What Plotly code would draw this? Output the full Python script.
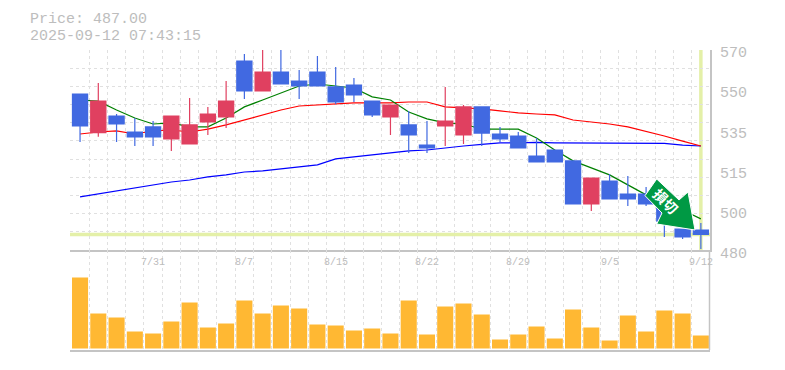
import plotly.graph_objects as go

W, H = 785, 370

dates = ["7/25","7/28","7/29","7/30","7/31","8/1","8/4","8/5","8/6","8/7","8/8","8/12","8/13","8/14","8/15",
         "8/18","8/19","8/20","8/21","8/22","8/25","8/26","8/27","8/28","8/29","9/1","9/2","9/3","9/4","9/5",
         "9/8","9/9","9/10","9/11","9/12"]
shown_dates = ["7/31","8/7","8/15","8/22","8/29","9/5","9/12"]

opens = [550.2,532.8,540.3,533.1,535.4,530.0,527.7,537.6,539.9,565.0,551.6,560.1,556.0,560.1,553.4,
         554.2,547.0,539.9,536.3,527.2,535.8,531.8,544.4,532.2,531.3,522.3,525.0,520.1,500.7,511.0,
         505.2,505.2,498.9,489.4,489.0]
highs = [550.2,555.2,541.2,539.4,538.0,540.3,548.4,544.4,556.0,568.2,570.0,570.0,561.0,567.3,562.4,
         557.4,547.0,545.2,542.6,538.0,553.4,545.2,544.4,535.4,533.1,530.4,525.0,520.1,512.4,514.2,
         513.3,508.4,502.5,489.4,492.1]
lows = [528.6,531.0,528.6,526.8,526.8,524.6,527.7,531.8,534.9,548.0,551.6,554.7,548.0,553.8,545.7,
        546.6,539.9,531.8,523.7,523.7,526.8,527.7,526.8,528.6,525.9,519.6,519.6,500.7,497.5,503.0,
        499.8,499.8,485.9,485.0,480.5]
closes = [535.8,547.0,536.7,530.9,530.9,540.3,536.3,541.2,547.0,551.6,560.1,554.7,553.8,553.8,546.6,
          549.8,540.8,545.2,531.8,525.9,538.0,544.4,532.6,530.0,525.9,519.6,519.6,500.7,512.4,503.0,
          503.0,500.7,493.0,485.9,487.0]

ma_short = [547.5,547.0,543.0,539.4,536.7,537.2,535.4,535.4,539.4,544.4,547.5,550.6,553.8,554.7,553.8,
            552.9,548.9,547.5,542.1,539.0,537.2,536.7,534.4,534.4,534.4,530.4,525.0,520.1,516.9,513.8,
            509.3,504.8,500.3,498.0,494.0]
ma_mid = [532.2,533.1,533.6,532.2,533.6,534.0,533.1,534.4,536.3,538.5,540.8,543.0,544.8,545.2,545.7,
          546.2,546.2,546.2,546.6,546.6,544.4,543.9,543.5,542.6,541.7,541.2,540.8,538.5,537.6,536.7,
          535.4,533.5,531.3,529.0,526.8]
ma_long = [503.9,505.2,506.6,507.9,509.3,510.6,511.5,512.9,513.8,515.1,515.6,516.5,517.4,518.3,521.0,
           521.9,522.8,523.7,524.6,525.0,526.0,526.8,527.5,528.2,528.2,528.4,528.2,528.2,528.2,528.2,
           528.2,528.2,528.0,527.2,526.8]
volume = [71,35,31,17,15,27,46,21,25,48,35,43,40,24,23,18,20,15,48,14,42,45,34,9,14,22,10,39,21,8,33,17,38,35,13]

price_labels = ["570","550","535","515","500","480"]
price_label_levels = [570,552,534,516,498,480]
last_price = 487.0
title_lines = ["Price: 487.00", "2025-09-12 07:43:15"]
signal_text = "損切"

idx = list(range(len(dates)))
GRAY = "#bdbdbd"
AXIS = "#c4c4c4"
GRID = "#e0e0e0"
BAND = "#e4f0a8"
MONO = "Liberation Mono"

def px(x):
    return x / W

def py(y):
    return 1 - y / H

x_range = [-0.55, 34.5]
x_grid = [i - 0.5 for i in idx] + [34.5]
y_grid = [480 + i * 90 / 11 for i in range(12)]

fig = go.Figure()
for name, vals, col in [("long", ma_long, "#0000ff"), ("mid", ma_mid, "#ff0000"), ("short", ma_short, "#008000")]:
    fig.add_trace(go.Scatter(x=idx, y=vals, mode="lines", name=name, line=dict(color=col, width=1.2),
                             xaxis="x", yaxis="y", hoverinfo="skip"))

fig.add_trace(go.Candlestick(x=idx, open=opens, high=highs, low=lows, close=closes, xaxis="x3", yaxis="y3",
                             increasing=dict(line=dict(color="#e04060", width=1.2), fillcolor="#e04060"),
                             decreasing=dict(line=dict(color="#4169e1", width=1.2), fillcolor="#4169e1"),
                             whiskerwidth=0))
fig.add_trace(go.Bar(x=idx, y=volume, marker=dict(color="#ffb833", line=dict(width=0)), xaxis="x2", yaxis="y2"))

axis_x = dict(range=x_range, domain=[px(70), px(710)], tickmode="array", tickvals=x_grid, showticklabels=False,
              ticks="", showgrid=True, gridcolor=GRID, griddash="3px,3px", gridwidth=1.2, zeroline=False,
              showline=True, linecolor=AXIS, linewidth=1.5)

shapes = [
    dict(type="line", xref="x", yref="y", x0=-0.55, x1=34.5, y0=last_price, y1=last_price,
         line=dict(color=BAND, width=3.5), layer="below"),
    dict(type="line", xref="x", yref="y", x0=34, x1=34, y0=480, y1=570,
         line=dict(color=BAND, width=3.5), layer="below"),
    dict(type="line", xref="paper", yref="paper", x0=px(709.5), x1=px(709.5), y0=py(250), y1=py(350),
         line=dict(color=AXIS, width=1.5), layer="above"),
]
arrow = [(656.7, 179), (645, 195.7), (662, 213), (656.7, 224), (695, 230), (688, 192), (679, 200)]
path = "M " + " L ".join(f"{px(a)},{py(b)}" for a, b in arrow) + " Z"
shapes.append(dict(type="path", xref="paper", yref="paper", path=path, fillcolor="#009944",
                   line=dict(color="#ffffff", width=1), layer="above"))

annotations = []
for i, t in enumerate(title_lines):
    annotations.append(dict(text=t, xref="paper", yref="paper", x=px(28), y=py(19 + 17 * i), xanchor="left",
                            yanchor="middle", showarrow=False, font=dict(family=MONO, size=15, color=GRAY)))
for t, v in zip(price_labels, price_label_levels):
    annotations.append(dict(text=t, xref="paper", yref="y", x=px(718), y=v, yshift=-4, xanchor="left",
                            yanchor="middle", showarrow=False, font=dict(family=MONO, size=15, color=GRAY)))
for t in shown_dates:
    annotations.append(dict(text=t, xref="x", yref="paper", x=dates.index(t), y=py(262), xanchor="center",
                            yanchor="middle", showarrow=False, font=dict(family=MONO, size=10, color=GRAY)))
annotations.append(dict(text=signal_text, xref="paper", yref="paper", x=px(666), y=py(201), textangle=45,
                        xanchor="center", yanchor="middle", showarrow=False,
                        font=dict(family="Noto Sans CJK JP", size=14, color="#ffffff", weight="bold")))

fig.update_layout(
    width=W, height=H, autosize=False, margin=dict(l=0, r=0, t=0, b=0),
    paper_bgcolor="#ffffff", plot_bgcolor="#ffffff", showlegend=False,
    boxgap=0.17, boxgroupgap=0, bargap=0.12,
    xaxis=axis_x,
    yaxis=dict(range=[480, 570], domain=[py(250), py(50)], anchor="x", tickmode="array", tickvals=y_grid,
               showticklabels=False, ticks="", showgrid=True, gridcolor=GRID, griddash="3px,3px",
               gridwidth=1.2, zeroline=False, side="right", showline=True, linecolor=AXIS, linewidth=1.5),
    xaxis2=dict(axis_x, anchor="y2"),
    yaxis2=dict(range=[-1.5, 98.5], domain=[py(350), py(250)], anchor="x2", showticklabels=False, ticks="",
                showgrid=False, zeroline=False),
    xaxis3=dict(range=x_range, domain=[px(70), px(710)], overlaying="x", anchor="y3", visible=False,
                rangeslider=dict(visible=False)),
    yaxis3=dict(range=[480, 570], domain=[py(250), py(50)], overlaying="y", anchor="x3", visible=False),
    shapes=shapes, annotations=annotations,
)

fig.write_html("out.html", config={"displayModeBar": False}, post_script="document.body.style.margin='0';")
